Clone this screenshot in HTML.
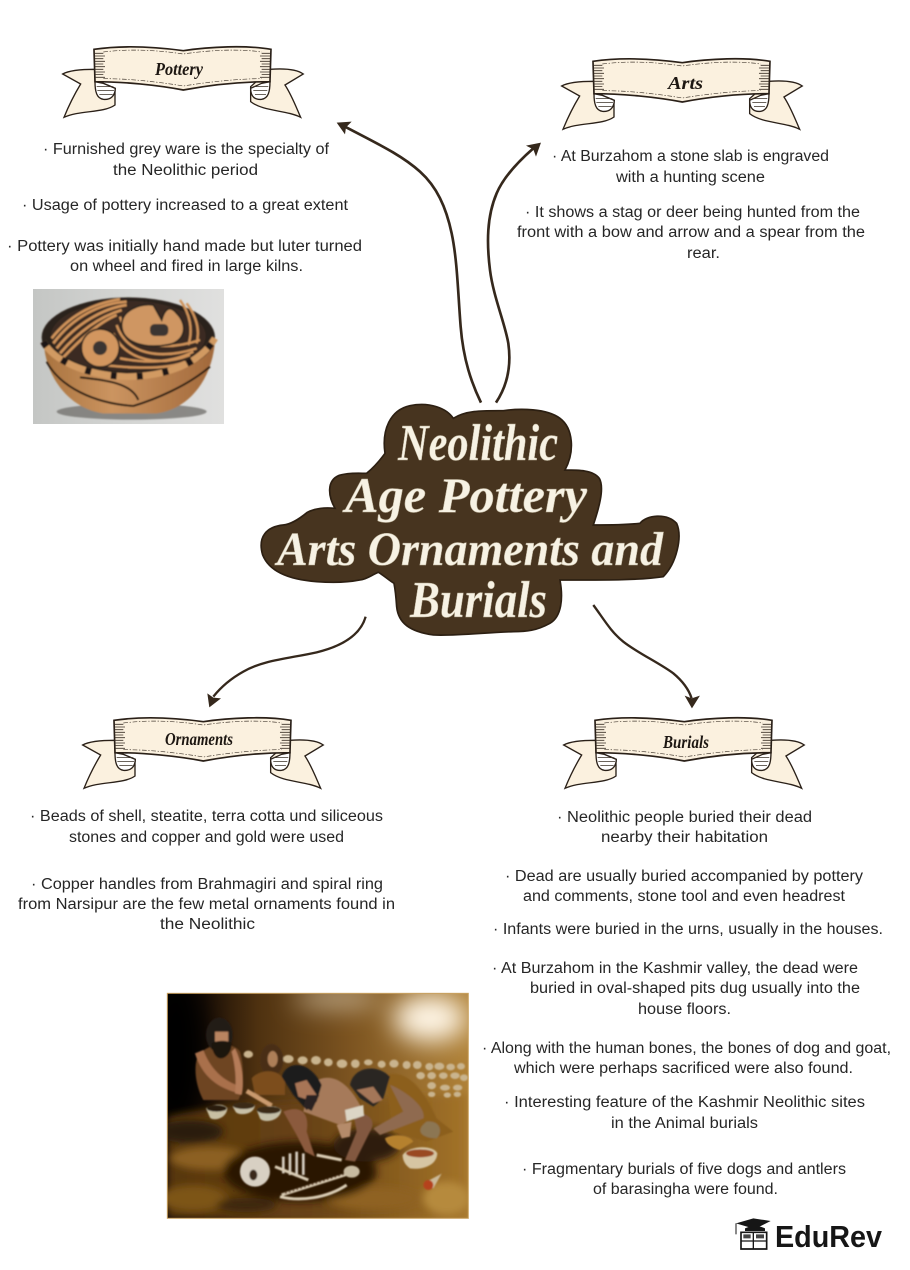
<!DOCTYPE html>
<html><head><meta charset="utf-8"><title>Neolithic Age</title>
<style>
html,body{margin:0;padding:0;background:#fff}
svg{display:block}
.t text{font-family:"Liberation Sans",sans-serif;font-size:15.5px;fill:#262626}
.s{font-family:"Liberation Serif",serif;font-style:italic;font-weight:bold;fill:#1d1712}
.h{font-family:"Liberation Serif",serif;font-style:italic;font-weight:bold;fill:#f7f2e4;stroke:#b8ad96;stroke-width:.5px}
</style></head><body>
<svg width="910" height="1270" viewBox="0 0 910 1270" xmlns="http://www.w3.org/2000/svg">
<defs>
<filter id="b1" x="-10%" y="-10%" width="120%" height="120%"><feGaussianBlur stdDeviation="2.2"/></filter>
<filter id="b2" x="-60%" y="-60%" width="220%" height="220%"><feGaussianBlur stdDeviation="38"/></filter>
<filter id="b3" x="-20%" y="-20%" width="140%" height="140%"><feGaussianBlur stdDeviation="12"/></filter>
<linearGradient id="sc" x1="0" y1="0" x2="1" y2="0"><stop offset="0" stop-color="#0a0502"/><stop offset=".12" stop-color="#1a0e05"/><stop offset=".3" stop-color="#4e3110"/><stop offset=".6" stop-color="#7b5320"/><stop offset="1" stop-color="#b08238"/></linearGradient>
<linearGradient id="gr" x1="0" y1="0" x2="1" y2="0"><stop offset="0" stop-color="#57360f"/><stop offset=".5" stop-color="#6a4413"/><stop offset="1" stop-color="#a4742a"/></linearGradient>
<linearGradient id="bg" x1="0" y1="0" x2="1" y2="0"><stop offset="0" stop-color="#c4c6c4"/><stop offset=".5" stop-color="#d4d5d3"/><stop offset="1" stop-color="#e0e0df"/></linearGradient>
<linearGradient id="bw" x1="0" y1="0" x2="1" y2="0"><stop offset="0" stop-color="#a9733f"/><stop offset=".4" stop-color="#cb9460"/><stop offset="1" stop-color="#a1683a"/></linearGradient>
<g id="ban" transform="scale(.3333)">
<path d="M165,118C130,118 90,120 68,132L122,162C105,190 85,230 72,262C120,240 190,250 225,225L225,175L165,150Z" fill="#fbf1df" stroke="#2a2018" stroke-width="4"/>
<path d="M690,118C730,115 770,118 790,132L735,165C755,195 770,235 782,262C740,240 670,245 632,215L632,170Z" fill="#fbf1df" stroke="#2a2018" stroke-width="4"/>
<path d="M165,155C165,185 170,205 190,208C210,210 225,200 226,175L190,160Z" fill="#fff" stroke="#2a2018" stroke-width="4"/>
<path d="M690,155C690,185 685,205 665,208C645,210 632,200 632,175L665,160Z" fill="#fff" stroke="#2a2018" stroke-width="4"/>
<path d="M162,58C250,45 340,50 430,62C510,50 620,45 693,58L690,155C600,155 510,165 430,180C350,165 250,155 165,155Z" fill="#fbf1df" stroke="#2a2018" stroke-width="5"/>
<path d="M190,66C270,56 350,60 430,72C510,60 600,56 665,66M190,146C270,146 350,155 430,168C510,155 600,146 665,146" fill="none" stroke="#4a4036" stroke-width="2" stroke-dasharray="14 5 4 5"/>
<path d="M165,70H190M165,78H195M165,86H190M165,94H195M165,102H190M165,110H195M165,118H190M165,126H195M165,134H190M165,142H195M170,170H220M172,182H222M178,194H218M665,70H690M660,78H690M665,86H690M660,94H690M665,102H690M660,110H690M665,118H690M660,126H690M665,134H690M660,142H690M640,170H685M640,182H682M645,194H678" stroke="#3a3027" stroke-width="2.4" fill="none"/>
</g>
</defs>
<rect width="910" height="1270" fill="#fff"/>

<!-- banners -->
<use href="#ban" x="40" y="30"/>
<use href="#ban" x="539" y="42"/>
<use href="#ban" x="60" y="701"/>
<use href="#ban" x="541" y="701"/>
<text class="s" x="155" y="75" font-size="18" textLength="48" lengthAdjust="spacingAndGlyphs">Pottery</text>
<text class="s" x="668" y="89" font-size="18" textLength="35" lengthAdjust="spacingAndGlyphs">Arts</text>
<text class="s" x="165" y="745" font-size="18" textLength="68" lengthAdjust="spacingAndGlyphs">Ornaments</text>
<text class="s" x="663" y="748" font-size="18" textLength="46" lengthAdjust="spacingAndGlyphs">Burials</text>

<!-- body text -->
<g class="t">
<text x="43" y="154" textLength="286" lengthAdjust="spacingAndGlyphs">· Furnished grey ware is the specialty of</text>
<text x="113" y="175" textLength="145" lengthAdjust="spacingAndGlyphs">the Neolithic period</text>
<text x="22" y="210" textLength="326" lengthAdjust="spacingAndGlyphs">· Usage of pottery increased to a great extent</text>
<text x="7" y="251" textLength="355" lengthAdjust="spacingAndGlyphs">· Pottery was initially hand made but luter turned</text>
<text x="70" y="271" textLength="233" lengthAdjust="spacingAndGlyphs">on wheel and fired in large kilns.</text>

<text x="552" y="161" textLength="277" lengthAdjust="spacingAndGlyphs">· At Burzahom a stone slab is engraved</text>
<text x="616" y="182" textLength="149" lengthAdjust="spacingAndGlyphs">with a hunting scene</text>
<text x="525" y="217" textLength="335" lengthAdjust="spacingAndGlyphs">· It shows a stag or deer being hunted from the</text>
<text x="517" y="237" textLength="348" lengthAdjust="spacingAndGlyphs">front with a bow and arrow and a spear from the</text>
<text x="687" y="258" textLength="33" lengthAdjust="spacingAndGlyphs">rear.</text>

<text x="30" y="821" textLength="353" lengthAdjust="spacingAndGlyphs">· Beads of shell, steatite, terra cotta und siliceous</text>
<text x="69" y="842" textLength="275" lengthAdjust="spacingAndGlyphs">stones and copper and gold were used</text>
<text x="31" y="889" textLength="352" lengthAdjust="spacingAndGlyphs">· Copper handles from Brahmagiri and spiral ring</text>
<text x="18" y="909" textLength="377" lengthAdjust="spacingAndGlyphs">from Narsipur are the few metal ornaments found in</text>
<text x="160" y="929" textLength="95" lengthAdjust="spacingAndGlyphs">the Neolithic</text>

<text x="557" y="822" textLength="255" lengthAdjust="spacingAndGlyphs">· Neolithic people buried their dead</text>
<text x="601" y="842" textLength="167" lengthAdjust="spacingAndGlyphs">nearby their habitation</text>
<text x="505" y="881" textLength="358" lengthAdjust="spacingAndGlyphs">· Dead are usually buried accompanied by pottery</text>
<text x="523" y="901" textLength="322" lengthAdjust="spacingAndGlyphs">and comments, stone tool and even headrest</text>
<text x="493" y="934" textLength="390" lengthAdjust="spacingAndGlyphs">· Infants were buried in the urns, usually in the houses.</text>
<text x="492" y="973" textLength="366" lengthAdjust="spacingAndGlyphs">· At Burzahom in the Kashmir valley, the dead were</text>
<text x="530" y="993" textLength="330" lengthAdjust="spacingAndGlyphs">buried in oval-shaped pits dug usually into the</text>
<text x="638" y="1014" textLength="93" lengthAdjust="spacingAndGlyphs">house floors.</text>
<text x="482" y="1053" textLength="409" lengthAdjust="spacingAndGlyphs">· Along with the human bones, the bones of dog and goat,</text>
<text x="514" y="1073" textLength="339" lengthAdjust="spacingAndGlyphs">which were perhaps sacrificed were also found.</text>
<text x="504" y="1107" textLength="361" lengthAdjust="spacingAndGlyphs">· Interesting feature of the Kashmir Neolithic sites</text>
<text x="611" y="1128" textLength="147" lengthAdjust="spacingAndGlyphs">in the Animal burials</text>
<text x="522" y="1174" textLength="324" lengthAdjust="spacingAndGlyphs">· Fragmentary burials of five dogs and antlers</text>
<text x="593" y="1194" textLength="185" lengthAdjust="spacingAndGlyphs">of barasingha were found.</text>
</g>

<!-- arrows -->
<g fill="none" stroke="#35281c" stroke-width="8" stroke-linecap="butt" transform="translate(320,100) scale(.3333)">
<path d="M483,908C455,850 430,780 422,680C414,580 412,480 395,400C378,320 350,260 300,215C245,165 170,130 75,80"/>
<path d="M528,908C560,860 575,800 565,730C555,670 520,590 510,510C500,430 500,350 530,280C552,228 600,180 640,145"/>
<path d="M50,68L95,65L78,82L75,103Z" fill="#35281c" stroke="none"/>
<path d="M663,128L618,137L640,148L648,170Z" fill="#35281c" stroke="none"/>
</g>
<g fill="none" stroke="#35281c" stroke-width="7" transform="translate(190,600) scale(.3333)">
<path d="M527,50C510,110 450,140 380,157C300,175 220,180 160,215C115,240 90,265 70,290"/>
<path d="M1210,15C1240,55 1262,95 1300,125C1340,157 1410,190 1450,220C1480,245 1497,270 1505,295"/>
<path d="M58,322L52,280L70,293L93,295Z" fill="#35281c" stroke="none"/>
<path d="M1506,325L1484,287L1505,295L1530,287Z" fill="#35281c" stroke="none"/>
</g>

<!-- central title -->
<g transform="translate(250,390) scale(.3333)">
<path d="M405,190C395,120 420,60 480,47C540,35 590,55 610,85C650,60 700,62 760,62C810,55 890,55 930,85C970,115 975,185 945,240C985,240 1030,240 1048,265C1065,295 1045,360 1030,405C1080,405 1130,405 1170,400C1190,375 1250,368 1280,400C1298,440 1280,520 1240,560C1160,572 1040,570 930,570C940,625 935,680 900,700C860,722 830,725 790,725C700,728 620,738 550,735C480,725 445,700 440,650C438,620 436,600 432,580C415,570 400,555 385,547C365,555 350,568 330,570C290,578 240,578 200,575C130,570 60,550 38,495C22,440 50,410 100,405C125,403 150,385 172,367C195,355 225,352 255,355C235,320 228,272 268,256C295,248 325,250 350,250C368,235 385,218 405,190Z" fill="#47341f" stroke="#2c1f12" stroke-width="5"/>
</g>
<text class="h" x="398" y="460" font-size="52" textLength="160" lengthAdjust="spacingAndGlyphs">Neolithic</text>
<text class="h" x="345" y="512" font-size="50" textLength="242" lengthAdjust="spacingAndGlyphs">Age Pottery</text>
<text class="h" x="277" y="565" font-size="48" textLength="386" lengthAdjust="spacingAndGlyphs">Arts Ornaments and</text>
<text class="h" x="410" y="617" font-size="52" textLength="137" lengthAdjust="spacingAndGlyphs">Burials</text>

<!-- bowl picture -->
<rect x="33" y="289" width="191" height="135" fill="url(#bg)"/>
<g transform="translate(20,280) scale(.3333)">
<g filter="url(#b1)">
<ellipse cx="335" cy="395" rx="225" ry="24" fill="#6f6e6a" opacity=".75"/>
<path d="M72,190C75,280 140,385 250,400L410,400C520,385 580,280 585,180Z" fill="url(#bw)"/>
<path d="M80,245C120,320 220,370 340,378C400,360 500,320 570,260M180,292C260,300 335,310 355,360" fill="none" stroke="#221711" stroke-width="6"/>
<ellipse cx="325" cy="172" rx="260" ry="120" fill="#2a211c"/>
<ellipse cx="325" cy="168" rx="232" ry="105" fill="#3b2c22"/>
<path d="M100,190C160,110 240,70 320,65M110,205C170,130 250,85 320,75M120,220C180,150 240,110 305,90M130,232C170,190 230,130 290,105M95,175C150,105 220,70 300,58" fill="none" stroke="#d0935a" stroke-width="8"/>
<path d="M300,110C320,190 420,220 540,180M290,135C320,225 420,240 530,205M280,160C320,245 420,260 510,225M250,255C340,265 440,270 495,245M300,235C380,250 450,250 520,215M500,70C530,110 540,150 530,190M480,60C510,100 520,150 505,195" fill="none" stroke="#d0935a" stroke-width="7"/>
<path d="M305,135C305,90 360,70 400,75L425,120C435,85 450,75 470,100C510,140 490,190 440,195C390,205 305,195 305,135Z" fill="#cf9662" stroke="#26201c" stroke-width="5"/>
<circle cx="241" cy="204" r="57" fill="#d2965f" stroke="#2b221d" stroke-width="5"/>
<circle cx="240" cy="204" r="21" fill="#3b3431"/>
<rect x="390" y="132" width="55" height="36" rx="14" fill="#3b3431"/>
<path d="M70,185C100,240 190,285 320,290C440,290 540,250 585,175" fill="none" stroke="#d19a62" stroke-width="20"/>
<path d="M70,185C100,240 190,285 320,290C440,290 540,250 585,175" fill="none" stroke="#1f1713" stroke-width="20" stroke-dasharray="18 60"/>
</g>
</g>

<!-- burial picture -->
<g transform="translate(160,985) scale(.3333)">
<clipPath id="cp"><rect x="22" y="25" width="903" height="675"/></clipPath>
<g clip-path="url(#cp)">
<rect x="22" y="25" width="903" height="675" fill="url(#sc)"/>
<g filter="url(#b2)">
<ellipse cx="810" cy="100" rx="110" ry="70" fill="#fff6e6"/>
<ellipse cx="530" cy="40" rx="130" ry="25" fill="#cdbb9e"/>
<ellipse cx="50" cy="200" rx="90" ry="240" fill="#000"/>
</g>
<path d="M22,395C200,350 600,340 925,325V700H22Z" fill="url(#gr)" filter="url(#b3)"/>
<g filter="url(#b3)">
<ellipse cx="150" cy="520" rx="120" ry="35" fill="#8c6020"/>
<ellipse cx="90" cy="440" rx="100" ry="35" fill="#2c1b08"/>
<ellipse cx="100" cy="640" rx="100" ry="40" fill="#7d5417"/>
<ellipse cx="260" cy="660" rx="90" ry="22" fill="#3d2609"/>
<ellipse cx="640" cy="640" rx="140" ry="35" fill="#8f6220"/>
<ellipse cx="860" cy="640" rx="70" ry="50" fill="#b68a3d"/>
<ellipse cx="420" cy="560" rx="230" ry="90" fill="#2a1606"/>
<ellipse cx="620" cy="480" rx="100" ry="50" fill="#2f1b08"/>
</g>
<g filter="url(#b1)">
<g fill="#c9b48e">
<ellipse cx="265" cy="208" rx="14" ry="11"/><ellipse cx="385" cy="222" rx="16" ry="12"/><ellipse cx="428" cy="226" rx="15" ry="12"/><ellipse cx="468" cy="226" rx="15" ry="13"/><ellipse cx="505" cy="232" rx="13" ry="12"/><ellipse cx="546" cy="236" rx="16" ry="13"/><ellipse cx="586" cy="236" rx="13" ry="13"/><ellipse cx="625" cy="232" rx="13" ry="9"/><ellipse cx="665" cy="238" rx="12" ry="11"/><ellipse cx="702" cy="236" rx="14" ry="12"/><ellipse cx="740" cy="240" rx="12" ry="12"/><ellipse cx="772" cy="240" rx="13" ry="12"/><ellipse cx="808" cy="245" rx="12" ry="11"/><ellipse cx="838" cy="244" rx="15" ry="11"/><ellipse cx="872" cy="246" rx="13" ry="10"/><ellipse cx="903" cy="244" rx="12" ry="10"/>
<ellipse cx="782" cy="272" rx="13" ry="11"/><ellipse cx="815" cy="272" rx="13" ry="11"/><ellipse cx="850" cy="272" rx="13" ry="10"/><ellipse cx="885" cy="272" rx="14" ry="10"/><ellipse cx="912" cy="278" rx="12" ry="10"/>
<ellipse cx="815" cy="302" rx="13" ry="11"/><ellipse cx="855" cy="308" rx="15" ry="9"/><ellipse cx="893" cy="308" rx="14" ry="9"/><ellipse cx="815" cy="328" rx="11" ry="8"/><ellipse cx="862" cy="330" rx="11" ry="8"/><ellipse cx="892" cy="328" rx="11" ry="8"/>
</g>
<!-- left man -->
<path d="M115,210C150,170 220,170 240,200C255,250 250,320 235,345L130,345C105,300 100,240 115,210Z" fill="#6e4522"/>
<path d="M105,205C125,270 170,310 240,325L245,305C190,290 150,250 130,195Z" fill="#a96f4c"/>
<path d="M225,190C245,230 255,290 245,330L225,325C230,280 225,240 215,200Z" fill="#b57c58"/>
<ellipse cx="178" cy="150" rx="40" ry="52" fill="#241a14"/>
<path d="M165,140H205V170H165Z" fill="#b98461"/>
<path d="M155,175C170,165 205,165 215,175C215,205 195,222 180,220C165,218 155,195 155,175Z" fill="#1c1410"/>
<!-- woman -->
<ellipse cx="335" cy="225" rx="35" ry="48" fill="#4a2e16"/>
<ellipse cx="338" cy="222" rx="15" ry="24" fill="#ad7f58"/>
<path d="M275,280C300,250 360,250 375,290L375,330L285,330Z" fill="#7b4d1c"/>
<!-- pestle -->
<path d="M260,318L335,362" stroke="#c99a6e" stroke-width="14" fill="none"/>
<!-- bowls -->
<g>
<path d="M138,370C160,355 195,355 202,370C200,400 160,410 150,398Z" fill="#c8bfa2"/><ellipse cx="170" cy="370" rx="30" ry="10" fill="#2a1a0c"/>
<path d="M218,365C240,350 275,350 285,362C280,390 240,392 228,382Z" fill="#c8c0a7"/><ellipse cx="251" cy="362" rx="33" ry="10" fill="#3b2a15"/>
<path d="M290,375C310,360 355,360 364,375C360,410 310,415 300,400Z" fill="#c4bfa8"/><ellipse cx="326" cy="375" rx="36" ry="11" fill="#3b2a15"/>
</g>
<!-- center man -->
<path d="M450,300C510,250 570,290 612,385L540,420L430,380Z" fill="#a67a5a"/>
<path d="M370,380C420,360 450,380 440,440L465,515L435,500L410,450Z" fill="#8b5a3c"/>
<path d="M580,385C630,380 650,410 630,440L585,530L555,525L590,440Z" fill="#82583f"/>
<path d="M365,275C380,225 450,225 485,300L470,350L440,375L400,330Z" fill="#1e1a1a"/>
<path d="M405,295L440,285L470,330L445,345L415,335Z" fill="#a87556"/>
<path d="M440,330L478,330L455,378L430,365Z" fill="#2a2422"/>
<path d="M555,375L610,360L612,392L560,410Z" fill="#dcd5c5"/>
<path d="M530,420L575,410L570,455L545,460Z" fill="#b58b6a"/>
<!-- right man -->
<path d="M675,270C740,250 790,310 830,400L880,440L800,470L700,440Z" fill="#8c5f1f"/>
<path d="M690,300C720,310 800,360 790,400L660,450L640,430L730,380Z" fill="#8f6a50"/>
<path d="M570,300C580,245 650,235 690,275L670,340L640,365L600,340Z" fill="#2b2622"/>
<path d="M590,315L640,305L668,345L640,355Z" fill="#a47658"/>
<path d="M675,460C700,445 750,450 760,470L720,495C700,490 680,480 675,460Z" fill="#b5812e"/>
<path d="M800,410C840,405 850,440 830,460C790,460 760,440 800,410Z" fill="#8c7653"/>
<!-- skeleton -->
<ellipse cx="285" cy="560" rx="45" ry="45" fill="#d8d0c3"/><ellipse cx="280" cy="570" rx="12" ry="16" fill="#3a2a1d"/>
<path d="M370,515V565M390,505V570M410,500V575M430,505V570" stroke="#d8d0c3" stroke-width="8" fill="none"/>
<path d="M345,545L445,585M365,630L585,560M360,635C420,650 500,640 560,600M470,510L545,525" stroke="#d9ccb4" stroke-width="9" fill="none"/>
<path d="M375,625L560,565" stroke="#5b3312" stroke-width="4" stroke-dasharray="6 6" fill="none"/>
<ellipse cx="575" cy="560" rx="24" ry="18" fill="#c7baa0"/>
<!-- red bowl -->
<path d="M728,510C750,480 820,480 832,505C830,545 780,555 750,550C735,540 728,525 728,510Z" fill="#d6c5a3"/>
<ellipse cx="780" cy="505" rx="42" ry="12" fill="#9a4a22"/>
<path d="M800,590L845,566L820,610Z" fill="#cbb99a"/><circle cx="805" cy="600" r="15" fill="#b5421e"/>
</g>
</g>
<rect x="22" y="25" width="903" height="675" fill="none" stroke="#c9a15f" stroke-width="3"/>
</g>

<!-- logo -->
<g transform="translate(720,1205) scale(.3333)">
<path d="M48,55L100,40L152,48L105,72Z" fill="#161616"/>
<path d="M48,55V88" stroke="#161616" stroke-width="3"/>
<path d="M75,70C95,60 120,62 135,70V78H75Z" fill="#161616"/>
<path d="M63,82H140V132H63Z" fill="#fff" stroke="#161616" stroke-width="5"/>
<path d="M63,108H140M100,80V132" stroke="#161616" stroke-width="4"/>
<path d="M70,88H92V100H70ZM108,88H132V100H108Z" fill="#444"/>
</g>
<text x="775" y="1247" font-family="'Liberation Sans',sans-serif" font-weight="bold" font-size="31" fill="#161616" textLength="107" lengthAdjust="spacingAndGlyphs">EduRev</text>
</svg>
</body></html>
